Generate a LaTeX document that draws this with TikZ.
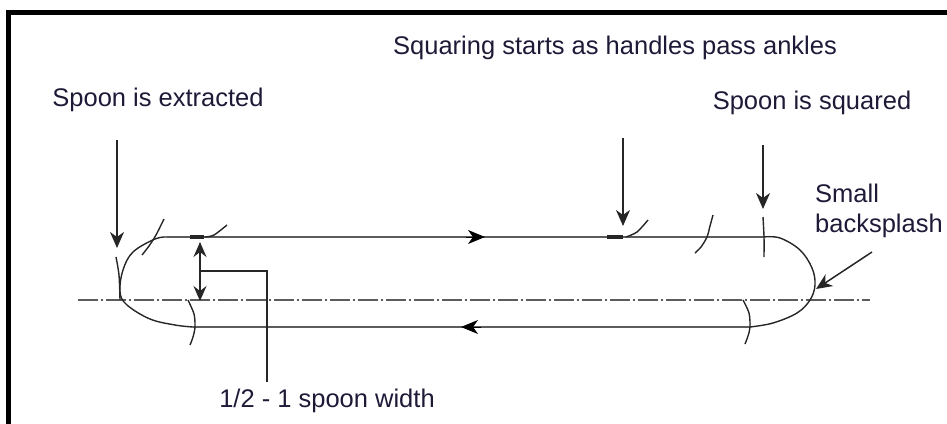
\documentclass[tikz,border=0pt]{standalone}
\usepackage{fontspec}
\setmainfont{Liberation Sans}
\usetikzlibrary{arrows.meta}
\definecolor{txt}{rgb}{0.12,0.10,0.22}
\definecolor{lin}{rgb}{0.36,0.36,0.36}
\tikzset{
  lbl/.style={font=\fontsize{25.5}{30}\selectfont, text=txt, inner sep=0pt},
  pathline/.style={draw=lin, line width=2.6pt},
  curve/.style={draw=black!85, line width=1.4pt, line join=round},
  tick/.style={draw=black!85, line width=1.4pt},
  pointer/.style={draw=black!85, line width=1.5pt, -{Stealth[length=16pt,width=14pt,inset=5pt]}},
  dir/.style={draw=black, line width=1pt, -{Stealth[length=17pt,width=14pt,inset=5pt]}},
  centre/.style={draw=lin, line width=1.7pt, dash pattern=on 20pt off 3pt on 2pt off 3pt},
  leader/.style={draw=black!85, line width=1.5pt}
}
\begin{document}
\begin{tikzpicture}[x=1pt,y=-1pt]
\useasboundingbox (0,0) rectangle (947,423);
% frame
\draw[line width=5pt, line cap=rect] (8,423) -- (8,12.5) -- (947,12.5);
% labels
\node[lbl] (extr) at (158,100) {Spoon is extracted};
\node[lbl] (sqst) at (615,48) {Squaring starts as handles pass ankles};
\node[lbl] (sqd) at (812,103) {Spoon is squared};
\node[lbl, align=left, anchor=west] (bs) at (815,211) {Small\\backsplash};
\node[lbl] (width) at (327,401) {1/2 - 1 spoon width};
% centre line
\coordinate (cl1) at (78,300);
\coordinate (cl2) at (870,300);
\draw[centre] (cl1) -- (cl2);
% loop
\coordinate (tl) at (167,237);
\coordinate (tr) at (763,237);
\coordinate (bl) at (193,327);
\coordinate (br) at (750,327);
\draw[pathline] (tl) -- (tr);
\draw[pathline] (bl) -- (br);
\draw[curve] plot[smooth, tension=0.6] coordinates {(167,237) (155,239) (133,252) (123,270) (120,292) (127,305) (150,319) (175,325) (193,327)};
\draw[curve] plot[smooth, tension=0.6] coordinates {(763,237) (780,238) (800,250) (812,268) (815,285) (810,300) (797,313) (773,323) (750,327)};
% direction arrows
\coordinate (da1) at (466,237);
\coordinate (da2) at (485,237);
\draw[dir] (da1) -- (da2);
\coordinate (db1) at (481,327);
\coordinate (db2) at (461,327);
\draw[dir] (db1) -- (db2);
% ticks
\draw[tick] plot[smooth] coordinates {(164,219) (156,235) (149,246) (142,255)};
\draw[tick] plot[smooth] coordinates {(116,257) (119,275) (120,300)};
\draw[line width=3.5pt, draw=black!85] (190,237) -- (204,237);
\draw[tick] plot[smooth] coordinates {(205,237) (214,235) (227,225)};
\draw[tick] plot[smooth] coordinates {(188,300) (194,314) (195,327) (193,337) (190,345)};
\draw[line width=3.5pt, draw=black!85] (607,237) -- (623,237);
\draw[tick] plot[smooth] coordinates {(626,237) (637,232) (648,220)};
\draw[tick] plot[smooth] coordinates {(713,215) (710,226) (707,237) (701,247) (695,253)};
\draw[tick] plot[smooth] coordinates {(763,217) (764,237) (764,257)};
\draw[tick] plot[smooth] coordinates {(743,300) (749,313) (750,327) (748,336) (745,344)};
% pointers
\coordinate (e1) at (117,140);
\coordinate (e2) at (117,248);
\draw[pointer] (e1) -- (e2);
\coordinate (s1) at (623,138);
\coordinate (s2) at (623,226);
\draw[pointer] (s1) -- (s2);
\coordinate (q1) at (763,145);
\coordinate (q2) at (763,209);
\draw[pointer] (q1) -- (q2);
\coordinate (b1) at (872,252);
\coordinate (b2) at (816,289);
\draw[pointer] (b1) -- (b2);
% width dimension
\coordinate (w1) at (200,242);
\coordinate (w2) at (200,301);
\draw[line width=1.5pt, draw=black!85, {Stealth[length=15pt,width=13pt,inset=5pt]}-{Stealth[length=15pt,width=13pt,inset=5pt]}] (w1) -- (w2);
\coordinate (lw1) at (200,271);
\coordinate (lw2) at (267,271);
\coordinate (lw3) at (267,382);
\draw[leader] (lw1) -- (lw2) -- (lw3);
\end{tikzpicture}
\end{document}
